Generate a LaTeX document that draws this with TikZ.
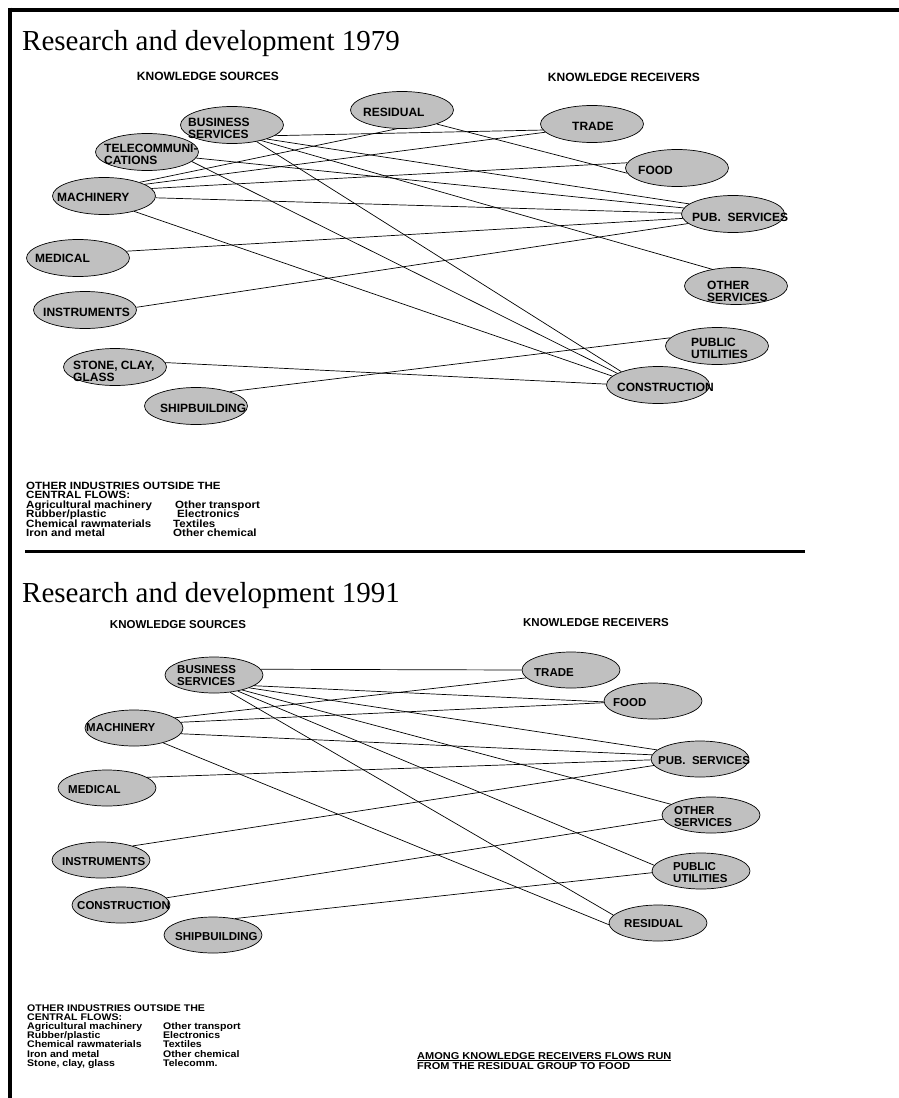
\documentclass[tikz,border=0pt]{standalone}
\usepackage{fontspec}
\setmainfont{Liberation Serif}
\newfontfamily\labfont{Liberation Sans}
\newfontfamily\blkfont{Liberation Sans}[FakeStretch=1.1]
\usetikzlibrary{shapes.geometric}
\definecolor{ellgray}{RGB}{192,192,192}
\begin{document}
\begin{tikzpicture}[x=1pt,y=-1pt,
  ell/.style={ellipse, draw=black, line width=0.7pt, fill=ellgray, minimum width=103pt, minimum height=37pt, inner sep=0pt},
  ellb/.style={ell, minimum width=98pt, minimum height=36pt},
  lab/.style={font=\labfont\bfseries\fontsize{12}{12}\selectfont, anchor=west, align=left, inner sep=0pt},
  labb/.style={lab, font=\labfont\bfseries\fontsize{11.5}{12}\selectfont},
  head/.style={font=\labfont\bfseries\fontsize{12}{12}\selectfont, inner sep=0pt},
  headb/.style={font=\labfont\bfseries\fontsize{11.5}{12}\selectfont, inner sep=0pt},
  blk/.style={font=\blkfont\bfseries\fontsize{10.5}{9}\selectfont, anchor=base west, inner sep=0pt},
  blkb/.style={font=\blkfont\bfseries\fontsize{9.6}{9}\selectfont, anchor=base west, inner sep=0pt},
  ttl/.style={font=\fontsize{29}{30}\selectfont, anchor=base west, inner sep=0pt},
  conn/.style={line width=0.7pt},
  frame/.style={line width=4pt}]
\useasboundingbox (0,0) rectangle (899,1098);
% frame
\draw[frame] (10,7.5) -- (10,1098);
\draw[frame] (8,9.5) -- (899,9.5);
\draw[line width=3pt] (25,551) -- (805,551);

% ===== 1979 =====
\node[ttl] (t1) at (22,50) {Research and development 1979};
\node[head] (ks1) at (208,76) {KNOWLEDGE SOURCES};
\node[head] (kr1) at (624,77) {KNOWLEDGE RECEIVERS};

\node[ell] (bs1) at (232,125) {};
\node[ell] (res1) at (402,110) {};
\node[ell] (tel1) at (147,152) {};
\node[ell] (mach1) at (104,196) {};
\node[ell] (med1) at (78,258) {};
\node[ell] (inst1) at (85,310) {};
\node[ell] (stone1) at (115,367) {};
\node[ell] (ship1) at (196,406) {};
\node[ell] (trade1) at (592,124) {};
\node[ell] (food1) at (677,168) {};
\node[ell] (pub1) at (733,214) {};
\node[ell] (oth1) at (736,286) {};
\node[ell] (util1) at (717,346) {};
\node[ell] (cons1) at (658,385) {};

\node[lab] (bs1t) at (188,128) {BUSINESS\\SERVICES};
\node[lab] (res1t) at (363,112) {RESIDUAL};
\node[lab] (tel1t) at (104,154) {TELECOMMUNI-\\CATIONS};
\node[lab] (mach1t) at (57,197) {MACHINERY};
\node[lab] (med1t) at (35,258) {MEDICAL};
\node[lab] (inst1t) at (43,312) {INSTRUMENTS};
\node[lab] (stone1t) at (73,371) {STONE, CLAY,\\GLASS};
\node[lab] (ship1t) at (160,408) {SHIPBUILDING};
\node[lab] (trade1t) at (572,126) {TRADE};
\node[lab] (food1t) at (638,170) {FOOD};
\node[lab] (pub1t) at (692,217) {PUB.\ \ SERVICES};
\node[lab] (oth1t) at (707,291) {OTHER\\SERVICES};
\node[lab] (util1t) at (691,348) {PUBLIC\\UTILITIES};
\node[lab] (cons1t) at (617,387) {CONSTRUCTION};

\draw[conn] (bs1.-14) -- (trade1.187);
\draw[conn] (bs1.-22) -- (pub1.167);
\draw[conn] (bs1.-28) -- (oth1.145);
\draw[conn] (bs1.-34) -- (cons1.160);
\draw[conn] (res1.-105) -- (mach1.21);
\draw[conn] (res1.-22) -- (food1.186);
\draw[conn] (tel1.-7) -- (pub1.173);
\draw[conn] (tel1.-12) -- (cons1.164);
\draw[conn] (mach1.16) -- (trade1.190);
\draw[conn] (mach1.9) -- (food1.174);
\draw[conn] (mach1.-2) -- (pub1.179);
\draw[conn] (mach1.-27) -- (cons1.169);
\draw[conn] (med1.8) -- (pub1.185);
\draw[conn] (inst1.3) -- (pub1.192);
\draw[conn] (stone1.5) -- (cons1.179);
\draw[conn] (ship1.23) -- (util1.170);

\node[blk] (o1a) at (26,489) {OTHER INDUSTRIES OUTSIDE THE};
\node[blk] (o1b) at (26,498.5) {CENTRAL FLOWS:};
\node[blk] (o1c) at (26,508) {Agricultural machinery};
\node[blk] (o1d) at (26,517.5) {Rubber/plastic};
\node[blk] (o1e) at (26,527) {Chemical rawmaterials};
\node[blk] (o1f) at (26,536.5) {Iron and metal};
\node[blk] (o1g) at (175,508) {Other transport};
\node[blk] (o1h) at (177,517.5) {Electronics};
\node[blk] (o1i) at (173,527) {Textiles};
\node[blk] (o1j) at (173,536.5) {Other chemical};

% ===== 1991 =====
\node[ttl] (t2) at (22,602) {Research and development 1991};
\node[headb] (ks2) at (178,625) {KNOWLEDGE SOURCES};
\node[headb] (kr2) at (596,623) {KNOWLEDGE RECEIVERS};

\node[ellb] (bs2) at (214,675) {};
\node[ellb] (mach2) at (134,728) {};
\node[ellb] (med2) at (107,788) {};
\node[ellb] (inst2) at (101,860) {};
\node[ellb] (cons2) at (121,905) {};
\node[ellb] (ship2) at (213,935) {};
\node[ellb] (trade2) at (571,670) {};
\node[ellb] (food2) at (653,701) {};
\node[ellb] (pub2) at (700,759) {};
\node[ellb] (oth2) at (711,815) {};
\node[ellb] (util2) at (701,871) {};
\node[ellb] (res2) at (658,923) {};

\node[labb] (bs2t) at (177,676) {BUSINESS\\SERVICES};
\node[labb] (mach2t) at (86,728) {MACHINERY};
\node[labb] (med2t) at (68,790) {MEDICAL};
\node[labb] (inst2t) at (62,862) {INSTRUMENTS};
\node[labb] (cons2t) at (77,906) {CONSTRUCTION};
\node[labb] (ship2t) at (175,937) {SHIPBUILDING};
\node[labb] (trade2t) at (534,673) {TRADE};
\node[labb] (food2t) at (613,703) {FOOD};
\node[labb] (pub2t) at (658,761) {PUB.\ \ SERVICES};
\node[labb] (oth2t) at (674,817) {OTHER\\SERVICES};
\node[labb] (util2t) at (673,873) {PUBLIC\\UTILITIES};
\node[labb] (res2t) at (624,924) {RESIDUAL};

\draw[conn] (bs2.7) -- (trade2.180);
\draw[conn] (bs2.-15) -- (food2.181);
\draw[conn] (bs2.-20) -- (pub2.168);
\draw[conn] (bs2.-28) -- (oth2.165);
\draw[conn] (bs2.-34) -- (util2.173);
\draw[conn] (bs2.-47) -- (res2.170);
\draw[conn] (mach2.14) -- (trade2.190);
\draw[conn] (mach2.7) -- (food2.182);
\draw[conn] (mach2.-7) -- (pub2.175);
\draw[conn] (mach2.-27) -- (res2.182);
\draw[conn] (med2.15) -- (pub2.181);
\draw[conn] (inst2.24) -- (pub2.188);
\draw[conn] (cons2.9) -- (oth2.185);
\draw[conn] (ship2.37) -- (util2.182);

\node[blkb] (o2a) at (27,1011) {OTHER INDUSTRIES OUTSIDE THE};
\node[blkb] (o2b) at (27,1020.2) {CENTRAL FLOWS:};
\node[blkb] (o2c) at (27,1029.4) {Agricultural machinery};
\node[blkb] (o2d) at (27,1038.6) {Rubber/plastic};
\node[blkb] (o2e) at (27,1047.8) {Chemical rawmaterials};
\node[blkb] (o2f) at (27,1057) {Iron and metal};
\node[blkb] (o2g) at (27,1066.2) {Stone, clay, glass};
\node[blkb] (o2h) at (163,1029.4) {Other transport};
\node[blkb] (o2i) at (163,1038.6) {Electronics};
\node[blkb] (o2j) at (163,1047.8) {Textiles};
\node[blkb] (o2k) at (163,1057) {Other chemical};
\node[blkb] (o2l) at (163,1066.2) {Telecomm.};

\node[blkb, font=\blkfont\bfseries\fontsize{10}{9}\selectfont] (note1) at (417,1059) {\underline{AMONG KNOWLEDGE RECEIVERS FLOWS RUN}};
\node[blkb, font=\blkfont\bfseries\fontsize{10}{9}\selectfont] (note2) at (417,1069.5) {FROM THE RESIDUAL GROUP TO FOOD};
\end{tikzpicture}
\end{document}
